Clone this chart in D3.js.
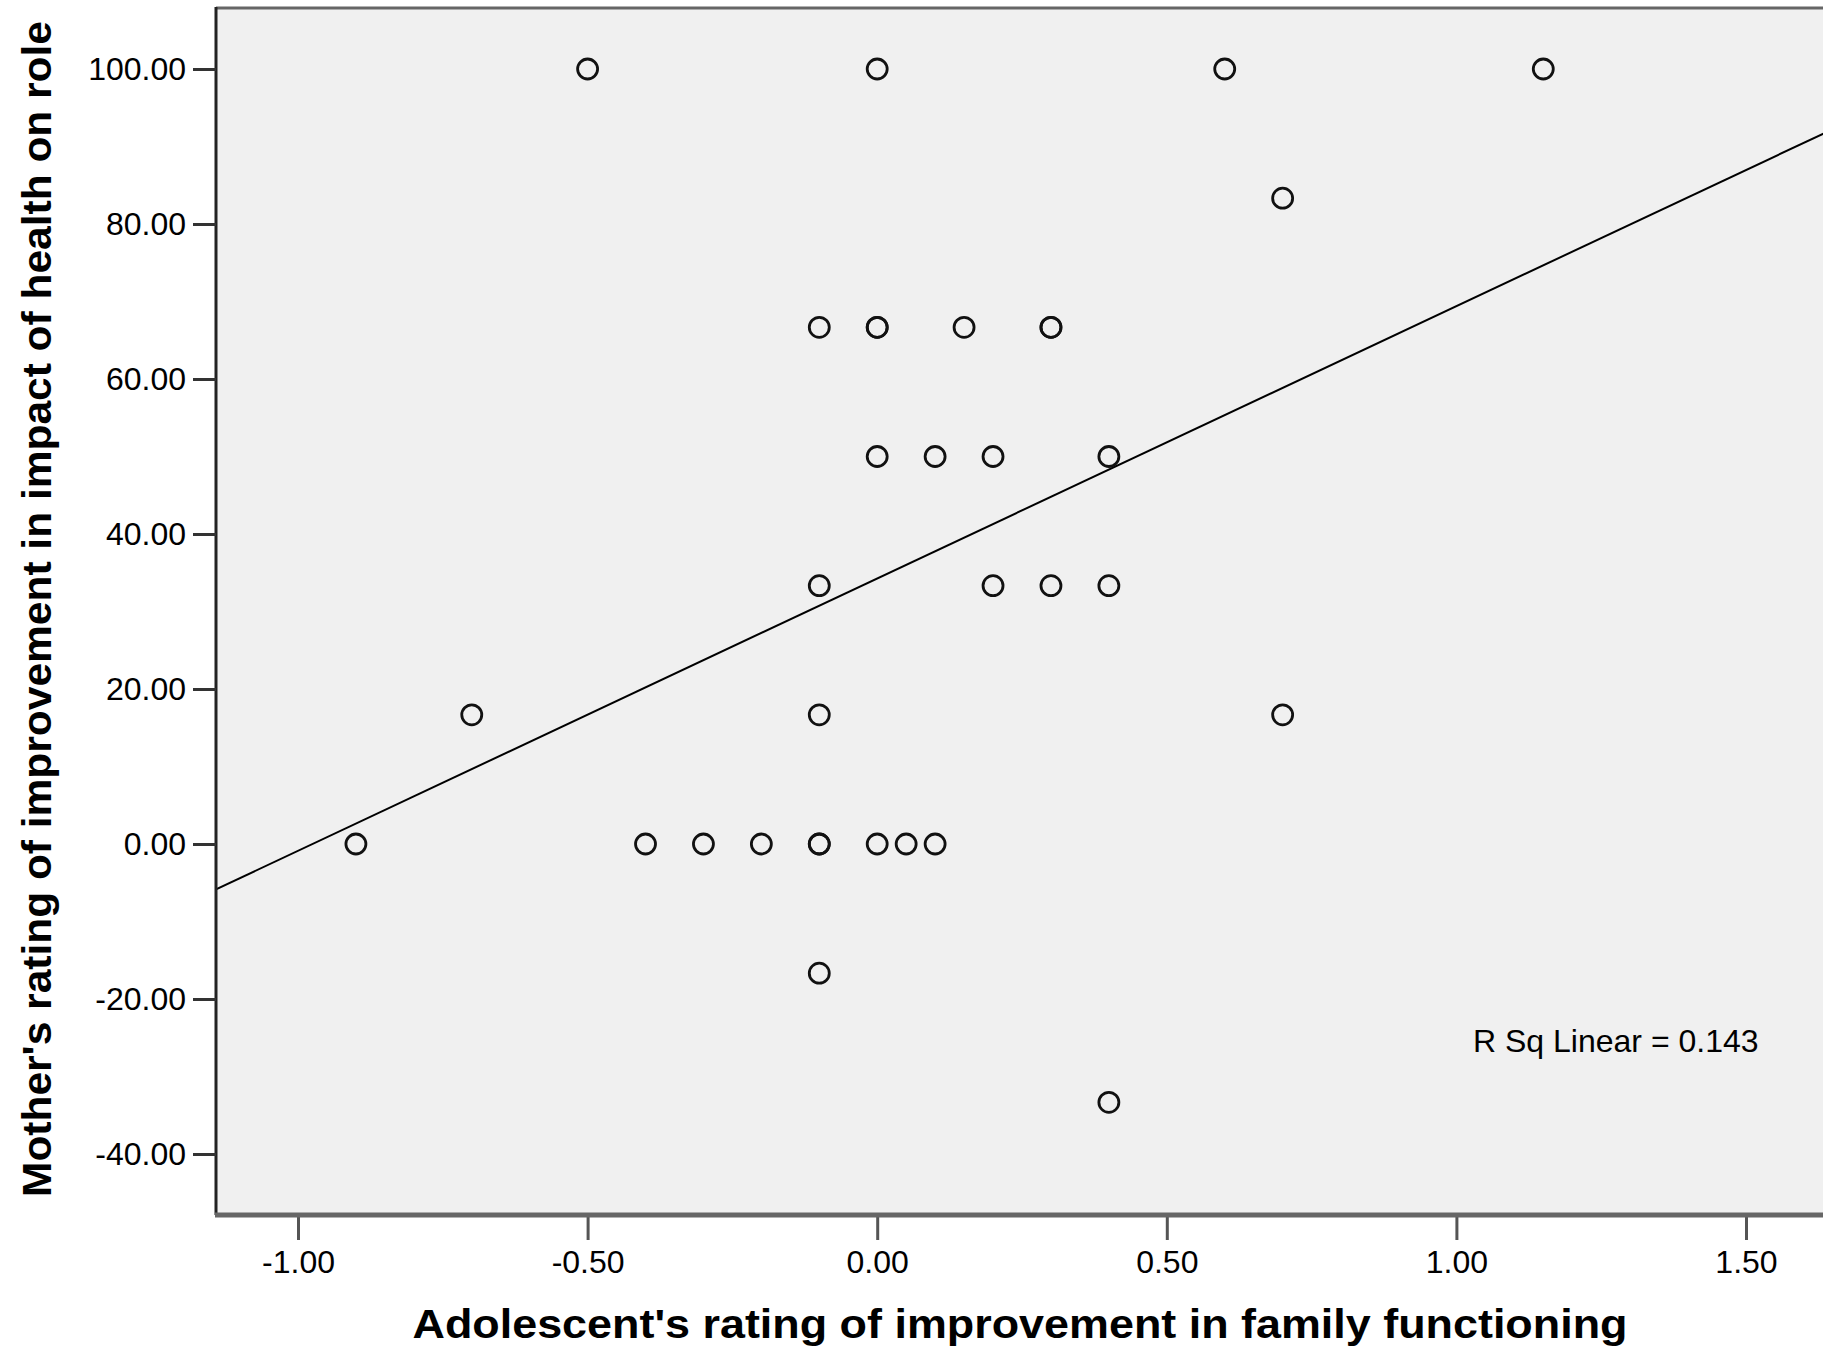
<!DOCTYPE html>
<html>
<head>
<meta charset="utf-8">
<script src="https://cdn.jsdelivr.net/npm/d3@7"></script>
<style>
  body { margin: 0; background: #fff; }
  svg { display: block; }
</style>
</head>
<body>
<svg id="chart" width="1823" height="1349"></svg>
<script>
// data
const adolescentX = [-0.5, 0, 0.6, 1.15, 0.7, -0.1, 0, 0, 0.15, 0.3, 0.3, 0, 0.1, 0.2, 0.4,
  -0.1, 0.2, 0.3, 0.4, -0.7, -0.1, 0.7, -0.9, -0.4, -0.3, -0.2, -0.1, -0.1, 0, 0.05, 0.1, -0.1, 0.4];
const motherY = [100, 100, 100, 100, 83.33, 66.67, 66.67, 66.67, 66.67, 66.67, 66.67, 50, 50, 50, 50,
  33.33, 33.33, 33.33, 33.33, 16.67, 16.67, 16.67, 0, 0, 0, 0, 0, 0, 0, 0, 0, -16.67, -33.33];
const xTicks = [-1, -0.5, 0, 0.5, 1, 1.5];
const yTicks = [-40, -20, 0, 20, 40, 60, 80, 100];
const xTitle = "Adolescent's rating of improvement in family functioning";
const yTitle = "Mother's rating of improvement in impact of health on role";

const points = adolescentX.map((d, i) => ({x: d, y: motherY[i]}));

// plain hyphen for negatives, like the original
const fmt = d3.formatLocale({decimal: '.', thousands: ',', grouping: [3], currency: ['', ''], minus: '-'}).format;

// plot frame
const pLeft = 216, pRight = 1826, pTop = 7, pBottom = 1215;

const x = d3.scaleLinear().domain([-1, 1.5]).range([298, 1746]);
const y = d3.scaleLinear().domain([-40, 100]).range([1154, 69]);

const svg = d3.select('#chart');

svg.append('defs').append('clipPath').attr('id', 'plotclip')
  .append('rect').attr('x', pLeft).attr('y', pTop)
  .attr('width', pRight - pLeft).attr('height', pBottom - pTop);

svg.append('rect')
  .attr('x', pLeft).attr('y', pTop)
  .attr('width', pRight - pLeft).attr('height', pBottom - pTop)
  .attr('fill', '#f0f0f0');

// least squares fit
const mx = d3.mean(points, d => d.x), my = d3.mean(points, d => d.y);
const sxy = d3.sum(points, d => (d.x - mx) * (d.y - my));
const sxx = d3.sum(points, d => (d.x - mx) * (d.x - mx));
const syy = d3.sum(points, d => (d.y - my) * (d.y - my));
const slope = sxy / sxx;
const icpt = my - slope * mx;
const r2 = sxy * sxy / (sxx * syy);

const x0 = x.invert(pLeft), x1 = x.invert(pRight);
svg.append('line')
  .attr('clip-path', 'url(#plotclip)')
  .attr('x1', x(x0)).attr('y1', y(icpt + slope * x0))
  .attr('x2', x(x1)).attr('y2', y(icpt + slope * x1))
  .attr('stroke', '#000').attr('stroke-width', 2);

svg.append('g').selectAll('circle')
  .data(points)
  .enter().append('circle')
    .attr('cx', d => x(d.x))
    .attr('cy', d => y(d.y))
    .attr('r', 10)
    .attr('fill', 'none')
    .attr('stroke', '#111')
    .attr('stroke-width', 2.8);

// frame lines
svg.append('line').attr('x1', pLeft).attr('x2', pRight).attr('y1', pTop + 1).attr('y2', pTop + 1)
  .attr('stroke', '#666').attr('stroke-width', 3);
svg.append('line').attr('x1', pLeft).attr('x2', pLeft).attr('y1', pTop).attr('y2', pBottom)
  .attr('stroke', '#222').attr('stroke-width', 3);

// axes
const yAxis = svg.append('g')
  .attr('transform', 'translate(' + pLeft + ',0)')
  .call(d3.axisLeft(y).tickValues(yTicks).tickFormat(fmt('.2f')).tickSize(23).tickPadding(7));
yAxis.select('.domain').remove();
yAxis.selectAll('.tick line').attr('stroke', '#333').attr('stroke-width', 3);
yAxis.selectAll('.tick text')
  .attr('font-family', '"Liberation Sans", Arial, sans-serif')
  .attr('font-size', 32).attr('fill', '#000');

const xAxis = svg.append('g')
  .attr('transform', 'translate(0,' + (pBottom + 2) + ')')
  .call(d3.axisBottom(x).tickValues(xTicks).tickFormat(fmt('.2f')).tickSize(23).tickPadding(10));
xAxis.select('.domain').remove();
xAxis.selectAll('.tick line').attr('stroke', '#555').attr('stroke-width', 3);
xAxis.selectAll('.tick text')
  .attr('font-family', '"Liberation Sans", Arial, sans-serif')
  .attr('font-size', 32).attr('fill', '#000');

svg.append('line').attr('x1', pLeft - 1).attr('x2', pRight).attr('y1', pBottom).attr('y2', pBottom)
  .attr('stroke', '#666').attr('stroke-width', 5);

// r squared note
svg.append('text')
  .attr('x', 1473).attr('y', 1052)
  .attr('font-family', '"Liberation Sans", Arial, sans-serif')
  .attr('font-size', 32)
  .text('R Sq Linear = ' + d3.format('.3f')(r2));

// titles
svg.append('text')
  .attr('x', 1020).attr('y', 1338)
  .attr('text-anchor', 'middle')
  .attr('font-family', '"Liberation Sans", Arial, sans-serif')
  .attr('font-weight', 'bold').attr('font-size', 41)
  .attr('textLength', 1215).attr('lengthAdjust', 'spacingAndGlyphs')
  .text(xTitle);

svg.append('text')
  .attr('transform', 'translate(51,609) rotate(-90)')
  .attr('text-anchor', 'middle')
  .attr('font-family', '"Liberation Sans", Arial, sans-serif')
  .attr('font-weight', 'bold').attr('font-size', 41)
  .attr('textLength', 1176).attr('lengthAdjust', 'spacingAndGlyphs')
  .text(yTitle);
</script>
</body>
</html>
